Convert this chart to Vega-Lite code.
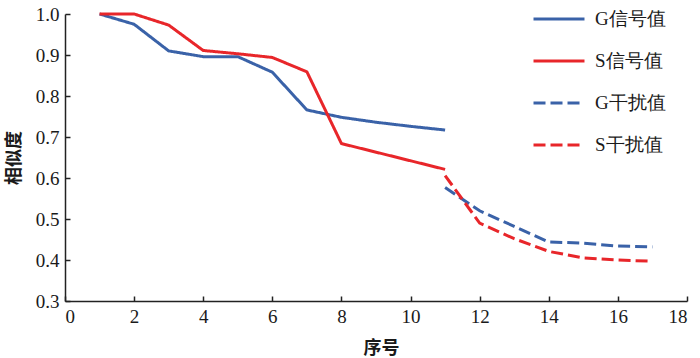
{
  "$schema": "https://vega.github.io/schema/vega-lite/v6.json",
  "autosize": "none",
  "width": 622,
  "height": 287,
  "padding": {"left": 65, "top": 14, "right": 13, "bottom": 57},
  "background": "white",
  "config": {
    "view": {"stroke": null},
    "axis": {
      "domainColor": "#222222",
      "domainWidth": 1.5,
      "tickColor": "#222222",
      "tickWidth": 1.5,
      "grid": false,
      "labelFont": "Liberation Serif",
      "labelFontSize": 19,
      "labelColor": "#1a1a1a",
      "titleFont": "Noto Sans CJK SC",
      "titleFontSize": 18,
      "titleFontWeight": "bold",
      "titleColor": "#1a1a1a"
    }
  },
  "data": {
    "values": [
      {"x": 1, "y": 1.0, "series": "G信号值"},
      {"x": 2, "y": 0.975, "series": "G信号值"},
      {"x": 3, "y": 0.91, "series": "G信号值"},
      {"x": 4, "y": 0.896, "series": "G信号值"},
      {"x": 5, "y": 0.896, "series": "G信号值"},
      {"x": 6, "y": 0.858, "series": "G信号值"},
      {"x": 7, "y": 0.766, "series": "G信号值"},
      {"x": 8, "y": 0.748, "series": "G信号值"},
      {"x": 9, "y": 0.736, "series": "G信号值"},
      {"x": 10, "y": 0.726, "series": "G信号值"},
      {"x": 11, "y": 0.717, "series": "G信号值"},
      {"x": 1, "y": 1.0, "series": "S信号值"},
      {"x": 2, "y": 1.0, "series": "S信号值"},
      {"x": 3, "y": 0.973, "series": "S信号值"},
      {"x": 4, "y": 0.911, "series": "S信号值"},
      {"x": 5, "y": 0.903, "series": "S信号值"},
      {"x": 6, "y": 0.894, "series": "S信号值"},
      {"x": 7, "y": 0.859, "series": "S信号值"},
      {"x": 8, "y": 0.684, "series": "S信号值"},
      {"x": 9, "y": 0.663, "series": "S信号值"},
      {"x": 10, "y": 0.642, "series": "S信号值"},
      {"x": 11, "y": 0.621, "series": "S信号值"},
      {"x": 11, "y": 0.577, "series": "G干扰值"},
      {"x": 12, "y": 0.52, "series": "G干扰值"},
      {"x": 13, "y": 0.482, "series": "G干扰值"},
      {"x": 14, "y": 0.444, "series": "G干扰值"},
      {"x": 15, "y": 0.441, "series": "G干扰值"},
      {"x": 16, "y": 0.434, "series": "G干扰值"},
      {"x": 17, "y": 0.432, "series": "G干扰值"},
      {"x": 11, "y": 0.606, "series": "S干扰值"},
      {"x": 12, "y": 0.49, "series": "S干扰值"},
      {"x": 13, "y": 0.452, "series": "S干扰值"},
      {"x": 14, "y": 0.421, "series": "S干扰值"},
      {"x": 15, "y": 0.405, "series": "S干扰值"},
      {"x": 16, "y": 0.4, "series": "S干扰值"},
      {"x": 17, "y": 0.397, "series": "S干扰值"}
    ]
  },
  "mark": {"type": "line", "strokeWidth": 3, "clip": false},
  "encoding": {
    "x": {
      "field": "x",
      "type": "quantitative",
      "title": "序号",
      "scale": {"domain": [0, 18], "nice": false},
      "axis": {
        "values": [0, 2, 4, 6, 8, 10, 12, 14, 16, 18],
        "labelFont": "Liberation Serif",
        "tickSize": -5,
        "labelPadding": 11,
        "titlePadding": 13,
        "titleX": 316
      }
    },
    "y": {
      "field": "y",
      "type": "quantitative",
      "title": "相似度",
      "scale": {"domain": [0.3, 1.0], "nice": false, "zero": false},
      "axis": {
        "values": [0.3, 0.4, 0.5, 0.6, 0.7, 0.8, 0.9, 1.0],
        "labelFont": "Liberation Serif",
        "format": ".1f",
        "tickSize": -5,
        "labelPadding": 11,
        "titlePadding": 12
      }
    },
    "color": {
      "field": "series",
      "type": "nominal",
      "title": null,
      "sort": ["G信号值", "S信号值", "G干扰值", "S干扰值"],
      "scale": {
        "domain": ["G信号值", "S信号值", "G干扰值", "S干扰值"],
        "range": ["#3a62a8", "#e8262a", "#3a62a8", "#e8262a"]
      },
      "legend": {
        "orient": "none",
        "legendX": 467,
        "legendY": -22,
        "padding": 0,
        "symbolType": "stroke",
        "symbolSize": 2600,
        "symbolStrokeWidth": 3,
        "labelFont": "Liberation Serif",
        "labelFontSize": 19,
        "labelColor": "#1a1a1a",
        "labelOffset": 9,
        "rowPadding": 5
      }
    },
    "strokeDash": {
      "field": "series",
      "type": "nominal",
      "title": null,
      "sort": ["G信号值", "S信号值", "G干扰值", "S干扰值"],
      "scale": {
        "domain": ["G信号值", "S信号值", "G干扰值", "S干扰值"],
        "range": [[1, 0], [1, 0], [12, 5], [12, 5]]
      }
    }
  }
}
